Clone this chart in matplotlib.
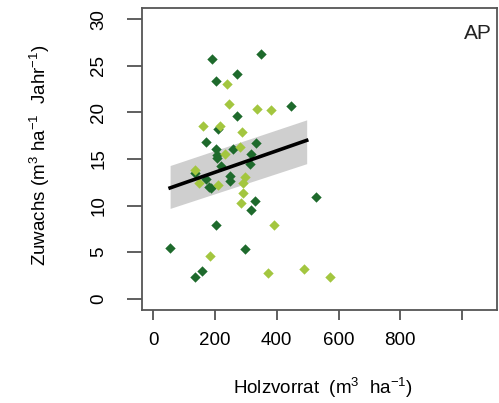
import numpy as np
import matplotlib
matplotlib.use("Agg")
import matplotlib.pyplot as plt

plt.rcParams["font.family"] = ["Liberation Sans", "DejaVu Sans"]
plt.rcParams["mathtext.fontset"] = "custom"
plt.rcParams["mathtext.rm"] = "Liberation Sans"
plt.rcParams["mathtext.it"] = "Liberation Sans:italic"

# dark green plots
dark_x = [190, 349, 204, 271, 447, 273, 210, 172, 333, 204, 260, 206, 208, 316, 312,
          219, 137, 172, 249, 249, 182, 187, 330, 316, 527, 204, 55, 298, 158, 136]
dark_y = [25.7, 26.3, 23.4, 24.1, 20.7, 19.6, 18.2, 16.8, 16.7, 16.1, 16.1, 15.4, 15.1, 15.5, 14.5,
          14.2, 13.5, 12.9, 13.2, 12.6, 12.0, 11.9, 10.5, 9.5, 10.9, 7.9, 5.5, 5.3, 3.0, 2.3]

# light green plots
light_x = [238, 246, 335, 382, 161, 218, 289, 282, 233, 134, 298, 149, 211, 292, 292,
           284, 392, 184, 371, 489, 571]
light_y = [23.0, 20.9, 20.4, 20.3, 18.5, 18.5, 17.9, 16.3, 15.5, 13.8, 13.1, 12.4, 12.2, 12.4, 11.3,
           10.3, 7.9, 4.6, 2.8, 3.2, 2.3]

# regression line and confidence band
fit_x = [55, 497]
fit_y = [11.9, 17.0]
band_lo = [9.7, 14.5]
band_hi = [14.3, 19.2]

x_ticks = [0, 200, 400, 600, 800, 1000]
x_labels = ["0", "200", "400", "600", "800", ""]
y_ticks = [0, 5, 10, 15, 20, 25, 30]

dpi = 100
fig = plt.figure(figsize=(499 / dpi, 403 / dpi), dpi=dpi)
ax = fig.add_axes([142 / 499, 1 - 310 / 403, (497 - 142) / 499, (310 - 8) / 403])

ax.fill_between(fit_x, band_lo, band_hi, color="#cfcfcf", linewidth=0, zorder=1)
ax.scatter(dark_x, dark_y, marker="D", s=28, color="#1e6a2c", linewidths=0, zorder=2)
ax.scatter(light_x, light_y, marker="D", s=28, color="#a3c63f", linewidths=0, zorder=2)
ax.plot(fit_x, fit_y, color="black", linewidth=2.6, zorder=3)

ax.set_xlim(-36, 1113)
ax.set_ylim(-1.2, 31.2)
ax.set_xticks(x_ticks)
ax.set_xticklabels(x_labels)
ax.set_yticks(y_ticks)
ax.set_yticklabels([str(v) for v in y_ticks], rotation=90, va="center")

ax.tick_params(axis="x", length=7, width=1.2, color="#444444", labelsize=13.5, pad=9)
ax.tick_params(axis="y", length=11, width=1.2, color="#444444", labelsize=13.5, pad=14)
for sp in ax.spines.values():
    sp.set_color("#555555")
    sp.set_linewidth(1.3)

ax.text(0.945, 0.915, "AP", transform=ax.transAxes, fontsize=15,
        ha="center", va="center", color="#222222")

fig.text(323 / 499, 1 - 388 / 403, r"Holzvorrat  (m$^3$  ha$^{-1}$)",
         ha="center", va="center", fontsize=13.5)
fig.text(40 / 499, 1 - 155 / 403, r"Zuwachs (m$^3$ ha$^{-1}$  Jahr$^{-1}$)",
         ha="center", va="center", fontsize=13.5, rotation=90)

fig.savefig("out.png", dpi=dpi, facecolor="white")
